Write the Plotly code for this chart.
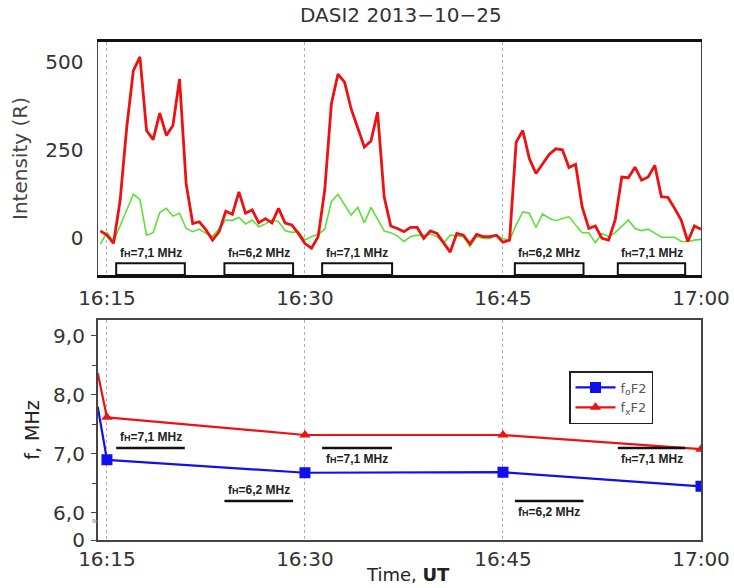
import pandas as pd
import plotly.graph_objects as go

# ---------------- data ----------------
title_text = "DASI2 2013\u221210\u221225"
start_time = "2013-10-25 16:14:30"      # first sample, 30 s cadence
step = "30s"

red_630 = [20, 8, -15, 107, 314, 475, 514, 305, 279, 354,
           291, 319, 451, 154, 41, 46, 23, -6, 18, 76,
           67, 131, 70, 80, 43, 55, 43, 84, 42, 37,
           13, -16, -29, 4, 136, 380, 465, 442, 366, 313,
           258, 275, 357, 117, 34, 27, 18, 30, 30, -1,
           20, 13, -15, -40, 13, 8, -17, 10, 4, 4,
           8, -12, -6, 272, 305, 225, 183, 211, 237, 253,
           250, 200, 209, 88, 27, 34, -1, -6, 51, 173,
           171, 201, 164, 173, 206, 117, 115, 84, 51, -10,
           34, 25]
green_558 = [-17, 15, -10, 35, 76, 124, 109, 8, 15, 72,
             84, 62, 70, 27, 18, 25, 13, 5, 27, 51,
             50, 58, 40, 51, 32, 40, 51, 46, 21, 16,
             18, -6, 4, 10, 25, 103, 124, 93, 65, 87,
             43, 87, 53, 20, 15, 6, -10, 4, 8, 6,
             11, 4, -15, 8, 6, 4, -24, 4, -1, -2,
             8, -2, -6, 37, 74, 70, 29, 68, 56, 49,
             55, 60, 37, 15, 15, -13, 13, 4, 15, 32,
             51, 27, 21, 25, 13, 2, 2, 2, -10, -10,
             -6, -4]

iono_times = ["2013-10-25 16:15", "2013-10-25 16:30", "2013-10-25 16:45", "2013-10-25 17:00"]
foF2 = [6.90, 6.68, 6.69, 6.45]
fxF2 = [7.62, 7.32, 7.32, 7.08]
lead_time = "2013-10-25 16:14:18"
foF2_lead = 7.80
fxF2_lead = 8.37

# gyro-frequency intervals (start, end, fH)
fh_start = ["2013-10-25 16:15:42", "2013-10-25 16:23:54", "2013-10-25 16:31:18",
            "2013-10-25 16:45:54", "2013-10-25 16:53:42"]
fh_end = ["2013-10-25 16:20:54", "2013-10-25 16:29:06", "2013-10-25 16:36:36",
          "2013-10-25 16:51:06", "2013-10-25 16:58:48"]
fh_value = [7.1, 6.2, 7.1, 6.2, 7.1]
fh_label = ["7,1", "6,2", "7,1", "6,2", "7,1"]
fh_text_above = [True, True, False, False, False]

tick_times = ["2013-10-25 16:15", "2013-10-25 16:30", "2013-10-25 16:45", "2013-10-25 17:00"]
tick_text = ["16:15", "16:30", "16:45", "17:00"]
x_range = ["2013-10-25 16:14:18", "2013-10-25 17:00:00"]

top_ticks = [0, 250, 500]
bot_tickvals = [5.54, 6, 7, 8, 9]
bot_ticktext = ["0", "6,0", "7,0", "8,0", "9,0"]
bot_minor = [6.5, 7.5, 8.5]

# ---------------- figure ----------------
times = pd.date_range(start_time, periods=len(red_630), freq=step)

FONT = "DejaVu Sans"
fig = go.Figure()

fig.add_trace(go.Scatter(x=times, y=green_558, mode="lines",
                         line=dict(color="#5ee03a", width=1.6),
                         xaxis="x", yaxis="y", showlegend=False))
fig.add_trace(go.Scatter(x=times, y=red_630, mode="lines",
                         line=dict(color="#ee1111", width=2.8),
                         xaxis="x", yaxis="y", showlegend=False))

# lead-in segments of ionosonde curves
fig.add_trace(go.Scatter(x=[lead_time, iono_times[0]], y=[foF2_lead, foF2[0]], mode="lines",
                         line=dict(color="#1010ee", width=2.2),
                         xaxis="x2", yaxis="y2", showlegend=False))
fig.add_trace(go.Scatter(x=[lead_time, iono_times[0]], y=[fxF2_lead, fxF2[0]], mode="lines",
                         line=dict(color="#ee1111", width=2.2),
                         xaxis="x2", yaxis="y2", showlegend=False))
fig.add_trace(go.Scatter(x=iono_times, y=foF2, mode="lines+markers", name="f<sub>o</sub>F2",
                         line=dict(color="#1010ee", width=2.2),
                         marker=dict(symbol="square", size=11, color="#1010ee"),
                         xaxis="x2", yaxis="y2"))
fig.add_trace(go.Scatter(x=iono_times, y=fxF2, mode="lines+markers", name="f<sub>x</sub>F2",
                         line=dict(color="#ee1111", width=2.2),
                         marker=dict(symbol="triangle-up", size=10, color="#ee1111"),
                         xaxis="x2", yaxis="y2"))

shapes = []
annotations = []
lab_font = dict(family="Liberation Sans", size=12, color="#222")
for s, e, v, lab, above in zip(fh_start, fh_end, fh_value, fh_label, fh_text_above):
    txt = "<b>f<span style='font-size:9px'>H</span>=" + lab + " MHz</b>"
    # top panel open boxes
    shapes.append(dict(type="rect", xref="x", yref="y", x0=s, x1=e, y0=-105, y1=-72,
                       line=dict(color="#111", width=2), fillcolor="rgba(0,0,0,0)"))
    mid = pd.Timestamp(s) + (pd.Timestamp(e) - pd.Timestamp(s)) / 2
    annotations.append(dict(xref="x", yref="y", x=mid, y=-72, yanchor="bottom",
                            text=txt, showarrow=False, font=lab_font, yshift=1))
    # bottom panel bars at fH
    shapes.append(dict(type="line", xref="x2", yref="y2", x0=s, x1=e, y0=v, y1=v,
                       line=dict(color="#111", width=2.5)))
    annotations.append(dict(xref="x2", yref="y2", x=mid, y=v,
                            yanchor="bottom" if above else "top",
                            yshift=2 if above else -2,
                            text=txt, showarrow=False, font=lab_font))

annotations.append(dict(xref="paper", yref="paper", x=401 / 734, y=1 - 15 / 588,
                        text=title_text, showarrow=False, xanchor="center", yanchor="middle",
                        font=dict(family=FONT, size=20, color="#333")))
annotations.append(dict(xref="paper", yref="paper", x=95 / 734, y=1 - 520 / 588,
                        text="\u2248", showarrow=False, xanchor="center", yanchor="middle",
                        font=dict(family=FONT, size=10, color="#888")))
annotations.append(dict(xref="paper", yref="paper", x=408 / 734, y=1 - 574 / 588,
                        text="Time, <b>UT</b>", showarrow=False, xanchor="center",
                        yanchor="middle", font=dict(family=FONT, size=18, color="#222")))

tick_font = dict(family=FONT, size=20, color="#333")
fig.update_layout(
    width=734, height=588,
    margin=dict(l=0, r=0, t=0, b=0, autoexpand=False),
    paper_bgcolor="white", plot_bgcolor="white",
    font=dict(family=FONT, color="#333"),
    shapes=shapes, annotations=annotations,
    xaxis=dict(domain=[97.7 / 734, 701 / 734], anchor="y", type="date", range=x_range,
               tickvals=tick_times, ticktext=tick_text, tickfont=tick_font,
               showline=True, mirror=True, linecolor="#111", linewidth=2.5,
               showgrid=True, gridcolor="#b0b0b0", griddash="dot", gridwidth=1,
               ticks="", zeroline=False, automargin=False, ticklabelstandoff=3),
    yaxis=dict(domain=[1 - 275 / 588, 1 - 42 / 588], anchor="x", range=[-105, 556],
               tickvals=top_ticks, tickfont=dict(family=FONT, size=20, color="#333"),
               showline=True, mirror=True, linecolor="#444", linewidth=1.3,
               showgrid=False, zeroline=False, ticks="", automargin=False,
               ticklabelstandoff=9,
               title=dict(text="Intensity (R)", font=dict(family=FONT, size=20, color="#444"),
                          standoff=12)),
    yaxis3=dict(overlaying="y", side="right", anchor="x", range=[-105, 556],
                tickvals=top_ticks, showticklabels=False, ticks="outside", ticklen=5,
                tickcolor="#999", showgrid=False, zeroline=False, showline=False,
                automargin=False),
    xaxis2=dict(domain=[97.7 / 734, 701 / 734], anchor="y2", type="date", range=x_range,
                tickvals=tick_times, ticktext=tick_text, tickfont=tick_font,
                showline=True, mirror=True, linecolor="#444", linewidth=1.6,
                showgrid=True, gridcolor="#b0b0b0", griddash="dot", gridwidth=1,
                ticks="", zeroline=False, automargin=False),
    yaxis2=dict(domain=[1 - 540 / 588, 1 - 320 / 588], anchor="x2", range=[5.54, 9.27],
                tickvals=bot_tickvals, ticktext=bot_ticktext, tickfont=tick_font,
                ticks="outside", ticklen=5, tickcolor="#444", ticklabelstandoff=2,
                minor=dict(tickvals=bot_minor, ticks="outside", ticklen=4, tickcolor="#444"),
                showline=True, mirror=True, linecolor="#444", linewidth=1.6,
                showgrid=False, zeroline=False, automargin=False,
                title=dict(text="f, MHz", font=dict(family=FONT, size=19, color="#222"),
                           standoff=8)),
    legend=dict(x=569 / 734, y=1 - 371 / 588, xanchor="left", yanchor="top",
                bordercolor="#222", borderwidth=1.5, bgcolor="white",
                font=dict(family=FONT, size=13, color="#555"),
                itemwidth=40, tracegroupgap=0),
)

fig.write_html("out.html", config={"displayModeBar": False},
               post_script="document.body.style.margin='0px';")
